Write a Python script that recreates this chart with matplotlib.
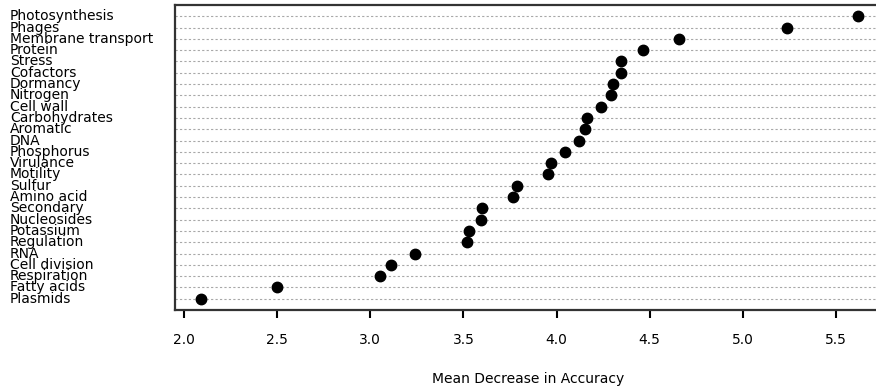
import numpy as np
import matplotlib
matplotlib.use('Agg')
import matplotlib.pyplot as plt
from matplotlib.transforms import blended_transform_factory

# categories listed top to bottom, as in the reference
categories = ['Photosynthesis', 'Phages', 'Membrane transport', 'Protein', 'Stress',
              'Cofactors', 'Dormancy', 'Nitrogen', 'Cell wall', 'Carbohydrates',
              'Aromatic', 'DNA', 'Phosphorus', 'Virulance', 'Motility', 'Sulfur',
              'Amino acid', 'Secondary', 'Nucleosides', 'Potassium', 'Regulation',
              'RNA', 'Cell division', 'Respiration', 'Fatty acids', 'Plasmids']
accuracy = [5.62, 5.235, 4.657, 4.462, 4.346, 4.346, 4.304, 4.292, 4.238, 4.163,
            4.154, 4.119, 4.045, 3.968, 3.956, 3.786, 3.764, 3.601, 3.593, 3.530,
            3.519, 3.238, 3.109, 3.054, 2.497, 2.091]
xticks = [2.0, 2.5, 3.0, 3.5, 4.0, 4.5, 5.0, 5.5]

n = len(categories)
ypos = np.arange(n, 0, -1)

W, H = 876, 392
fig = plt.figure(figsize=(W / 100, H / 100), dpi=100)
# plot region in pixels: x 175..881 (runs off the right edge), y 5..310
ax = fig.add_axes([175 / W, (H - 310) / H, (881 - 175) / W, 305 / H])

# dotted guide line for every row, like R's dotchart
for y in ypos:
    ax.axhline(y, color='#a8a8a8', lw=0.8, dashes=(2, 2), zorder=1)

ax.plot(accuracy, ypos, 'o', color='black', markersize=7.5, zorder=3)

xmin = 2.0 - (184 - 175) / 186.3
xmax = 2.0 + (881 - 184) / 186.3
ax.set_xlim(xmin, xmax)
ax.set_ylim(0, n + 1)

ax.set_xticks(xticks)
ax.set_xticklabels([f'{t:.1f}' for t in xticks], fontsize=10)
ax.tick_params(axis='x', length=6, width=1.5, pad=10.5, color='black')
ax.set_yticks([])

for side in ['left', 'top', 'bottom', 'right']:
    ax.spines[side].set_linewidth(1.6)
    ax.spines[side].set_color('#333333')

ax.set_xlabel('Mean Decrease in Accuracy', fontsize=10, labelpad=18)

# category names, left aligned near the left edge of the figure
trans = blended_transform_factory(fig.transFigure, ax.transData)
for lab, y in zip(categories, ypos):
    ax.text(10 / W, y, lab, transform=trans, ha='left', va='center',
            fontsize=10, clip_on=False)

fig.savefig('out.png', dpi=100)
